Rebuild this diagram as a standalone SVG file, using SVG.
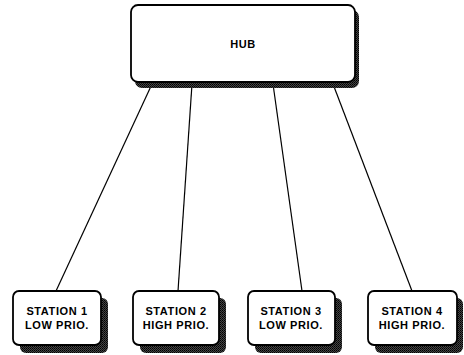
<svg xmlns="http://www.w3.org/2000/svg" width="464" height="355" viewBox="0 0 464 355">
<defs>
<pattern id="stip" width="2" height="2" patternUnits="userSpaceOnUse">
<rect width="2" height="2" fill="#444"/>
<rect width="1" height="1" fill="#000"/>
<rect x="1" y="1" width="1" height="1" fill="#111"/>
</pattern>
</defs>
<style>
.box{fill:#fff;stroke:#000;stroke-width:1.8}
.sh{fill:url(#stip)}
.t{font-family:"Liberation Sans",Arial,sans-serif;font-weight:bold;font-size:11px;text-anchor:middle;fill:#000;letter-spacing:0.6px}
.c{stroke:#000;stroke-width:1.2;fill:none}
</style>
<rect width="464" height="355" fill="#fff"/>
<g id="connectors">
<line class="c" x1="152" y1="84" x2="56" y2="291"/>
<line class="c" x1="192" y1="84" x2="178" y2="291"/>
<line class="c" x1="273" y1="84" x2="302" y2="291"/>
<line class="c" x1="333" y1="84" x2="412" y2="291"/>
</g>
<g id="hub">
<rect class="sh" x="135" y="10" width="224" height="78" rx="7"/>
<rect class="box" x="131" y="5" width="224" height="77" rx="7"/>
<text class="t" x="243" y="48" font-size="11" letter-spacing="0">HUB</text>
</g>
<g id="station1">
<rect class="sh" x="20" y="298" width="88" height="55" rx="6"/>
<rect class="box" x="13" y="291" width="88" height="54" rx="6"/>
<text class="t" x="57" y="315">STATION 1</text>
<text class="t" x="57" y="329">LOW PRIO.</text>
</g>
<g id="station2">
<rect class="sh" x="140" y="298" width="86" height="55" rx="6"/>
<rect class="box" x="133" y="291" width="86" height="54" rx="6"/>
<text class="t" x="176" y="315">STATION 2</text>
<text class="t" x="176" y="329">HIGH PRIO.</text>
</g>
<g id="station3">
<rect class="sh" x="255" y="298" width="87" height="55" rx="6"/>
<rect class="box" x="248" y="291" width="87" height="54" rx="6"/>
<text class="t" x="291" y="315">STATION 3</text>
<text class="t" x="291" y="329">LOW PRIO.</text>
</g>
<g id="station4">
<rect class="sh" x="375" y="298" width="88" height="55" rx="6"/>
<rect class="box" x="368" y="291" width="89" height="54" rx="6"/>
<text class="t" x="412" y="315">STATION 4</text>
<text class="t" x="412" y="329">HIGH PRIO.</text>
</g>
</svg>
